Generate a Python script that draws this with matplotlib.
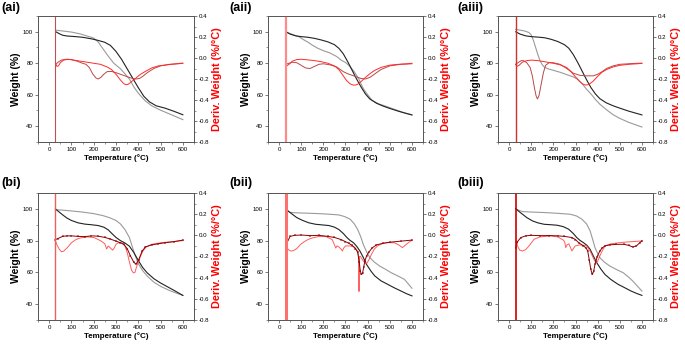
import matplotlib
matplotlib.use('Agg')
import matplotlib.pyplot as plt
from matplotlib.ticker import MultipleLocator

plt.rcParams['font.family'] = ['Liberation Sans', 'DejaVu Sans']

# ---------------- data ----------------
# (ai)
ai_black_T = [30, 45, 60, 80, 110, 150, 190, 220, 250, 275, 300, 325, 350, 375, 400, 425, 450, 480, 520, 560, 600]
ai_black_W = [100, 98.8, 97.8, 97.3, 97.0, 96.5, 95.5, 94.5, 93.3, 91.3, 87.5, 82.5, 76.5, 70.5, 64.5, 59, 55.5, 53, 51.5, 49.5, 47.3]
ai_gray_T = [30, 60, 100, 140, 170, 200, 220, 240, 260, 290, 320, 340, 360, 380, 400, 430, 460, 500, 540, 570, 600]
ai_gray_W = [101, 100.5, 99.8, 98.6, 97.3, 96, 93.5, 89.5, 85.5, 80, 76.5, 73.3, 70, 65, 61, 56.3, 53, 50.2, 47.8, 46, 44.2]
ai_red_T = [30, 35, 42, 50, 65, 85, 110, 140, 170, 200, 230, 260, 280, 300, 320, 335, 345, 355, 370, 390, 410, 430, 460, 490, 530, 570, 590, 600]
ai_red_D = [-0.06, -0.08, -0.075, -0.045, -0.02, -0.012, -0.02, -0.03, -0.04, -0.05, -0.06, -0.085, -0.11, -0.155, -0.21, -0.245, -0.255, -0.25, -0.225, -0.19, -0.155, -0.13, -0.095, -0.075, -0.065, -0.055, -0.05, -0.05]
ai_dark_T = [30, 40, 55, 75, 100, 125, 150, 165, 180, 195, 210, 220, 232, 245, 260, 280, 300, 320, 340, 360, 375, 390, 405, 420, 440, 470, 500, 540, 580, 600]
ai_dark_D = [-0.06, -0.04, -0.02, -0.012, -0.015, -0.03, -0.05, -0.06, -0.09, -0.15, -0.19, -0.2, -0.185, -0.155, -0.13, -0.128, -0.14, -0.155, -0.17, -0.185, -0.195, -0.2, -0.195, -0.175, -0.14, -0.1, -0.075, -0.06, -0.055, -0.05]

# (aii)
aii_black_T = [30, 50, 75, 100, 130, 160, 190, 220, 250, 270, 290, 310, 330, 350, 370, 390, 410, 440, 470, 500, 540, 570, 600]
aii_black_W = [100, 98.5, 97.4, 96.9, 96.5, 95.8, 94.8, 93.6, 91.8, 89.5, 86, 81, 75.5, 70, 65, 60.5, 57.3, 54.6, 52.8, 51.3, 49.5, 48.3, 47.2]
aii_gray_T = [30, 60, 90, 110, 130, 150, 175, 200, 230, 260, 280, 300, 320, 340, 360, 380, 400, 420, 450, 480, 520, 560, 600]
aii_gray_W = [100, 98.3, 96.8, 95, 93.4, 91.5, 89.5, 88, 86.5, 84.3, 82, 80.5, 78, 74.5, 70, 64, 60, 56.5, 54.2, 52.8, 50.8, 48.8, 47.2]
aii_red_T = [30, 35, 45, 60, 80, 100, 130, 160, 190, 220, 250, 270, 290, 305, 320, 335, 345, 355, 370, 390, 410, 430, 460, 500, 540, 580, 600]
aii_red_D = [-0.06, -0.075, -0.06, -0.03, -0.015, -0.012, -0.018, -0.025, -0.035, -0.05, -0.075, -0.11, -0.17, -0.215, -0.245, -0.258, -0.258, -0.25, -0.225, -0.185, -0.15, -0.12, -0.09, -0.068, -0.06, -0.055, -0.05]
aii_dark_T = [30, 45, 60, 80, 100, 120, 140, 160, 180, 200, 230, 260, 290, 310, 330, 350, 370, 390, 410, 430, 460, 500, 550, 600]
aii_dark_D = [-0.06, -0.05, -0.04, -0.045, -0.07, -0.095, -0.1, -0.08, -0.06, -0.055, -0.065, -0.085, -0.13, -0.15, -0.165, -0.18, -0.195, -0.2, -0.185, -0.155, -0.11, -0.075, -0.06, -0.055]

# (aiii)
aiii_black_T = [30, 50, 75, 100, 130, 160, 190, 220, 250, 270, 290, 310, 330, 350, 370, 390, 410, 440, 470, 500, 540, 570, 600]
aiii_black_W = [100, 98.5, 97.4, 96.9, 96.6, 96.2, 95.2, 93.8, 91.8, 89.5, 85.5, 80.5, 75, 69.5, 64.5, 60.5, 57.5, 54.8, 53, 51.5, 49.6, 48.4, 47.2]
aiii_gray_T = [30, 50, 70, 90, 100, 110, 120, 130, 140, 150, 160, 175, 200, 230, 260, 290, 310, 330, 350, 370, 390, 410, 440, 470, 500, 540, 570, 600]
aiii_gray_W = [101.5, 101, 100.5, 99.5, 98, 94.5, 90, 85.5, 81.5, 79, 77.5, 76.5, 75.5, 74.3, 72.8, 71.3, 69.8, 67, 63.5, 60.5, 57, 54, 50.5, 47.3, 45, 42.5, 41, 39.5]
aiii_red_T = [30, 35, 45, 60, 80, 100, 130, 160, 200, 230, 260, 280, 300, 315, 330, 345, 355, 365, 380, 400, 420, 440, 470, 500, 540, 580, 600]
aiii_red_D = [-0.06, -0.08, -0.07, -0.04, -0.025, -0.02, -0.025, -0.035, -0.05, -0.065, -0.09, -0.13, -0.18, -0.215, -0.245, -0.258, -0.255, -0.245, -0.22, -0.175, -0.135, -0.11, -0.085, -0.07, -0.06, -0.055, -0.05]
aiii_dark_T = [30, 40, 55, 65, 80, 95, 105, 115, 122, 128, 135, 145, 155, 165, 180, 200, 230, 260, 290, 320, 350, 380, 400, 420, 440, 470, 500, 540, 580, 600]
aiii_dark_D = [-0.06, -0.045, -0.025, -0.025, -0.045, -0.09, -0.17, -0.29, -0.36, -0.39, -0.36, -0.25, -0.14, -0.07, -0.045, -0.045, -0.06, -0.1, -0.145, -0.165, -0.17, -0.17, -0.155, -0.13, -0.1, -0.075, -0.06, -0.055, -0.05, -0.05]

# (bi)
bi_black_T = [28, 45, 60, 80, 100, 130, 160, 190, 220, 245, 265, 285, 300, 320, 340, 360, 380, 400, 420, 440, 470, 500, 530, 560, 600]
bi_black_W = [100, 98, 96.3, 94.2, 92.7, 91.2, 90.4, 90, 89.5, 88.5, 86.8, 84, 82, 80, 78.5, 76.5, 72.5, 67.5, 63, 59.7, 56, 53.3, 51, 48.7, 45.5]
bi_gray_T = [28, 60, 100, 150, 200, 240, 270, 300, 320, 340, 360, 370, 385, 400, 420, 440, 470, 500, 540, 570, 600]
bi_gray_W = [99.5, 99.2, 98.7, 98, 97, 95.8, 94.5, 92.7, 90.5, 87, 82, 77.5, 71, 65.5, 61, 57.7, 53.8, 51.2, 48.6, 47, 45.5]
bi_dark_T = [28, 40, 60, 80, 100, 130, 160, 190, 220, 250, 275, 300, 320, 335, 350, 365, 380, 390, 402, 417, 432, 460, 490, 520, 560, 600]
bi_dark_D = [-0.04, -0.03, -0.01, -0.005, -0.005, -0.01, -0.012, -0.005, -0.008, -0.02, -0.035, -0.055, -0.07, -0.085, -0.125, -0.195, -0.255, -0.272, -0.23, -0.15, -0.11, -0.09, -0.08, -0.07, -0.06, -0.045]
bi_light_T = [28, 35, 45, 55, 65, 80, 100, 120, 140, 170, 200, 230, 250, 258, 265, 275, 285, 292, 300, 310, 325, 340, 350, 360, 370, 378, 385, 392, 400, 410, 420, 435, 460, 500, 550, 600]
bi_light_D = [-0.05, -0.09, -0.13, -0.155, -0.15, -0.12, -0.07, -0.04, -0.025, -0.015, -0.02, -0.05, -0.08, -0.13, -0.1, -0.12, -0.14, -0.12, -0.085, -0.07, -0.07, -0.1, -0.16, -0.25, -0.33, -0.355, -0.35, -0.3, -0.25, -0.2, -0.15, -0.11, -0.085, -0.07, -0.06, -0.05]

# (bii)
bii_black_T = [30, 45, 60, 80, 105, 135, 165, 195, 225, 250, 270, 290, 306, 320, 336, 350, 365, 380, 395, 415, 432, 460, 490, 520, 550, 575, 600]
bii_black_W = [100, 98.2, 96.6, 94.5, 92.8, 91.2, 90.3, 89.9, 89.5, 88.5, 87, 84.5, 82, 80.2, 78.7, 76.5, 73.5, 69.5, 65, 60.8, 57.8, 54.7, 52.5, 50.3, 48.3, 46.6, 45.2]
bii_gray_T = [30, 40, 53, 100, 165, 220, 269, 295, 321, 340, 355, 370, 380, 395, 410, 430, 454, 480, 506, 540, 566, 585, 600]
bii_gray_W = [100, 98.5, 97.7, 97.4, 97.1, 96.7, 96.2, 95.2, 93.5, 90.5, 87, 82, 77.7, 73, 69.3, 66.5, 64, 62, 59.8, 57.5, 55.6, 52.5, 50]
bii_dark_T = [30, 38, 50, 70, 100, 140, 180, 220, 250, 280, 300, 315, 330, 345, 355, 362, 367, 372, 377, 382, 388, 395, 405, 420, 440, 470, 500, 550, 600]
bii_dark_D = [-0.12, -0.06, -0.01, 0.0, 0.003, -0.003, 0.0, -0.01, -0.02, -0.04, -0.06, -0.075, -0.095, -0.125, -0.16, -0.25, -0.34, -0.37, -0.36, -0.3, -0.24, -0.195, -0.16, -0.12, -0.09, -0.075, -0.065, -0.055, -0.045]
bii_light_T = [30, 35, 45, 53, 65, 80, 95, 110, 130, 150, 180, 210, 240, 250, 256, 262, 270, 280, 286, 292, 300, 320, 340, 355, 359, 361, 363, 368, 380, 395, 405, 417, 430, 445, 470, 492, 520, 540, 557, 572, 590, 600]
bii_light_D = [-0.1, -0.12, -0.14, -0.148, -0.145, -0.125, -0.09, -0.065, -0.04, -0.025, -0.01, -0.01, -0.04, -0.09, -0.12, -0.1, -0.11, -0.13, -0.148, -0.12, -0.1, -0.1, -0.11, -0.15, -0.2, -0.53, -0.2, -0.2, -0.243, -0.268, -0.235, -0.18, -0.13, -0.1, -0.075, -0.069, -0.07, -0.09, -0.116, -0.09, -0.06, -0.047]

# (biii)
biii_black_T = [30, 45, 61, 80, 106, 130, 158, 190, 217, 245, 269, 290, 306, 320, 336, 352, 366, 380, 396, 415, 433, 460, 493, 520, 550, 575, 600]
biii_black_W = [100.2, 98.3, 96.6, 94.5, 92.4, 91.2, 90.3, 90, 89.7, 88.8, 87.2, 84.5, 81.9, 80.2, 78.7, 77, 74.5, 70.5, 66.1, 62, 58.7, 55.5, 52.4, 50.5, 48.3, 46.8, 45.5]
biii_gray_T = [30, 45, 61, 100, 158, 220, 277, 305, 329, 350, 366, 378, 388, 400, 410, 430, 455, 485, 515, 540, 559, 580, 600]
biii_gray_W = [100, 99, 98.3, 98, 97.7, 97.2, 96.6, 95.5, 93.5, 90.5, 86.1, 80.5, 75.6, 72, 69.3, 66.5, 64, 61.8, 59.8, 57, 54.5, 51.3, 48.2]
biii_dark_T = [30, 38, 53, 75, 100, 140, 180, 220, 250, 284, 300, 314, 336, 348, 355, 362, 369, 376, 382, 388, 398, 410, 420, 433, 455, 485, 520, 540, 559, 575, 590, 600]
biii_dark_D = [-0.116, -0.06, -0.021, -0.005, 0.0, -0.003, -0.002, -0.005, -0.01, -0.021, -0.04, -0.069, -0.1, -0.12, -0.148, -0.23, -0.322, -0.37, -0.34, -0.275, -0.2, -0.148, -0.12, -0.1, -0.09, -0.085, -0.085, -0.095, -0.11, -0.1, -0.07, -0.053]
biii_light_T = [30, 38, 48, 61, 75, 90, 113, 140, 187, 220, 245, 251, 256, 262, 270, 278, 284, 292, 299, 320, 351, 365, 373, 385, 393, 400, 410, 420, 433, 460, 500, 550, 600]
biii_light_D = [-0.053, -0.1, -0.14, -0.148, -0.135, -0.1, -0.037, -0.015, -0.005, -0.015, -0.045, -0.06, -0.116, -0.09, -0.08, -0.12, -0.148, -0.12, -0.1, -0.09, -0.1, -0.145, -0.18, -0.235, -0.259, -0.245, -0.195, -0.15, -0.1, -0.08, -0.069, -0.06, -0.053]

# start-up artefact: vertical derivative spike near 30 degC
spike_T = [27, 31, 30, 26, 31, 31]
spike_colors = ['#c05050', '#ff8a8a', '#d03030', '#e86060', '#ff7070', '#cc0000']
spike_widths = [0.8, 1.6, 1.0, 1.0, 2.2, 1.2]

labels = ['(ai)', '(aii)', '(aiii)', '(bi)', '(bii)', '(biii)']
deriv_ticks = [-0.8, -0.6, -0.4, -0.2, 0.0, 0.2, 0.4]
deriv_ticklabels = ['-0.8', '-0.6', '-0.4', '-0.2', '0.0', '0.2', '0.4']

# ---------------- layout ----------------
W_PX, H_PX = 685, 346
# axes boxes in pixels: (left, top, right, bottom)
boxes = [(38, 16, 194, 142), (268, 16, 423, 142), (498, 16, 653, 142),
         (38, 193, 194, 320), (268, 193, 423, 320), (498, 193, 653, 320)]
label_pos = [(1, 2), (229, 2), (457, 2), (1, 177), (229, 177), (457, 177)]

fig = plt.figure(figsize=(W_PX / 100, H_PX / 100), dpi=100)

weights = [
    (ai_black_T, ai_black_W, ai_gray_T, ai_gray_W),
    (aii_black_T, aii_black_W, aii_gray_T, aii_gray_W),
    (aiii_black_T, aiii_black_W, aiii_gray_T, aiii_gray_W),
    (bi_black_T, bi_black_W, bi_gray_T, bi_gray_W),
    (bii_black_T, bii_black_W, bii_gray_T, bii_gray_W),
    (biii_black_T, biii_black_W, biii_gray_T, biii_gray_W),
]
derivs = [
    (ai_dark_T, ai_dark_D, ai_red_T, ai_red_D),
    (aii_dark_T, aii_dark_D, aii_red_T, aii_red_D),
    (aiii_dark_T, aiii_dark_D, aiii_red_T, aiii_red_D),
    (bi_dark_T, bi_dark_D, bi_light_T, bi_light_D),
    (bii_dark_T, bii_dark_D, bii_light_T, bii_light_D),
    (biii_dark_T, biii_dark_D, biii_light_T, biii_light_D),
]

for i in range(6):
    l, t, r, b = boxes[i]
    ax = fig.add_axes([l / W_PX, 1 - b / H_PX, (r - l) / W_PX, (b - t) / H_PX])
    ax2 = ax.twinx()

    # weight curves
    bt, bw, gt, gw = weights[i]
    ax.plot(gt, gw, color='#9a9a9a', lw=0.8)
    ax.plot(bt, bw, color='#222222', lw=0.8)

    # derivative curves
    dt, dd, rt, rd = derivs[i]
    if i < 3:
        ax2.plot(dt, dd, color='#b84848', lw=0.7)
        ax2.plot(rt, rd, color='#ff2a2a', lw=0.7)
    else:
        ax2.plot(rt, rd, color='#ff4040', lw=0.7, alpha=0.85)
        ax2.plot(dt, dd, color='#8b0000', lw=0.7, marker='+', ms=1.8, mew=0.35)
    ax2.axvline(spike_T[i], color=spike_colors[i], lw=spike_widths[i])

    ax.set_xlim(-50, 650)
    ax.set_ylim(30, 110)
    ax2.set_ylim(-0.8, 0.4)
    ax.xaxis.set_major_locator(MultipleLocator(100))
    ax.xaxis.set_minor_locator(MultipleLocator(50))
    ax.yaxis.set_minor_locator(MultipleLocator(10))
    ax.set_yticks([40, 60, 80, 100])
    ax2.yaxis.set_minor_locator(MultipleLocator(0.1))
    ax2.set_yticks(deriv_ticks)
    ax2.set_yticklabels(deriv_ticklabels)

    for a in (ax, ax2):
        a.tick_params(which='major', length=2, width=0.5, labelsize=4.4, pad=1.5, color='#444444')
        a.tick_params(which='minor', length=1.2, width=0.4, color='#444444')
        for s in a.spines.values():
            s.set_linewidth(0.6)
            s.set_color('#555555')

    ax.set_xlabel('Temperature (\u00b0C)', fontsize=5.8, fontweight='bold', labelpad=1.5)
    ax.set_ylabel('Weight (%)', fontsize=7.5, fontweight='bold', labelpad=1.5)
    ax2.set_ylabel('Deriv. Weight (%/\u00b0C)', fontsize=7.8, fontweight='bold',
                   color='#ff0000', labelpad=1.5)

    fig.text(label_pos[i][0] / W_PX, 1 - label_pos[i][1] / H_PX, labels[i],
             fontsize=9, fontweight='bold', ha='left', va='top')

fig.savefig('out.png', dpi=100)
